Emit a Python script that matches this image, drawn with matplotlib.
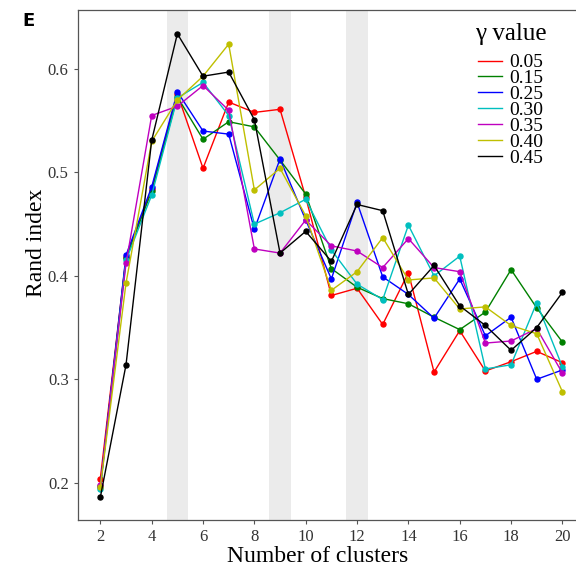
import matplotlib
matplotlib.use('Agg')
import matplotlib.pyplot as plt
import numpy as np

clusters = list(range(2, 21))
gammas = ['0.05', '0.15', '0.25', '0.30', '0.35', '0.40', '0.45']
colors = ['#FF0000', '#008000', '#0000FF', '#00BFBF', '#BF00BF', '#BFBF00', '#000000']

# Rand index per gamma, k = 2..20
ri_005 = [0.204, 0.418, 0.484, 0.576, 0.504, 0.568, 0.558, 0.561, 0.476, 0.381,
          0.388, 0.353, 0.403, 0.307, 0.347, 0.308, 0.317, 0.327, 0.316]
ri_015 = [0.197, 0.417, 0.482, 0.573, 0.532, 0.549, 0.544, 0.512, 0.479, 0.407,
          0.389, 0.378, 0.373, 0.360, 0.348, 0.365, 0.406, 0.369, 0.336]
ri_025 = [0.196, 0.420, 0.486, 0.578, 0.540, 0.537, 0.445, 0.513, 0.454, 0.397,
          0.471, 0.399, 0.382, 0.359, 0.397, 0.342, 0.360, 0.300, 0.309]
ri_030 = [0.194, 0.415, 0.478, 0.572, 0.587, 0.555, 0.450, 0.461, 0.474, 0.425,
          0.392, 0.377, 0.449, 0.400, 0.419, 0.310, 0.314, 0.374, 0.312]
ri_035 = [0.198, 0.412, 0.555, 0.564, 0.584, 0.560, 0.426, 0.422, 0.454, 0.429,
          0.424, 0.408, 0.436, 0.408, 0.404, 0.335, 0.337, 0.349, 0.306]
ri_040 = [0.196, 0.393, 0.530, 0.570, 0.593, 0.624, 0.483, 0.504, 0.458, 0.386,
          0.404, 0.437, 0.396, 0.398, 0.368, 0.370, 0.352, 0.344, 0.288]
ri_045 = [0.186, 0.314, 0.531, 0.634, 0.593, 0.597, 0.551, 0.422, 0.443, 0.414,
          0.469, 0.463, 0.382, 0.410, 0.371, 0.352, 0.328, 0.350, 0.384]
series = [ri_005, ri_015, ri_025, ri_030, ri_035, ri_040, ri_045]

# shaded cluster numbers
bands = [5, 9, 12]

serif = 'Liberation Serif'

fig = plt.figure(figsize=(5.76, 5.72), dpi=100)
ax = fig.add_axes([0.135, 0.091, 0.865, 0.8915])

for b in bands:
    ax.axvspan(b - 0.42, b + 0.42, color='#EBEBEB', lw=0, zorder=0)

for vals, col, lab in zip(series, colors, gammas):
    ax.plot(clusters, vals, color=col, lw=1.0, marker='o', markersize=3.6,
            label=lab, zorder=3)

ax.set_xlim(1.12, 20.53)
ax.set_ylim(0.164, 0.657)
ax.set_xticks(range(2, 21, 2))
ax.set_yticks([0.2, 0.3, 0.4, 0.5, 0.6])
ax.set_yticklabels(['0.2', '0.3', '0.4', '0.5', '0.6'])

for s in ['left', 'bottom', 'top']:
    ax.spines[s].set_color('#555555')
    ax.spines[s].set_linewidth(0.9)
ax.spines['right'].set_visible(False)
ax.tick_params(axis='both', length=3, width=0.8, color='#555555',
               labelsize=12, labelcolor='#333333')
for t in ax.get_xticklabels() + ax.get_yticklabels():
    t.set_family(serif)

ax.set_xlabel('Number of clusters', family=serif, fontsize=17)
ax.set_ylabel('Rand index', family=serif, fontsize=17)
ax.xaxis.set_label_coords(0.482, -0.051)
ax.yaxis.set_label_coords(-0.062, 0.543)

leg = ax.legend(loc='upper right', bbox_to_anchor=(0.957, 0.989),
                frameon=False, title='γ value', handlelength=1.2,
                handletextpad=0.4, labelspacing=-0.09, borderaxespad=0,
                prop={'family': serif, 'size': 14},
                title_fontproperties={'family': serif, 'size': 18})
leg._legend_box.sep = 6
for line in leg.get_lines():
    line.set_marker('')
    line.set_linewidth(1.0)

fig.text(0.038, 0.955, 'E', fontsize=13, fontweight='bold', family='DejaVu Sans')

fig.savefig('out.png', dpi=100)
